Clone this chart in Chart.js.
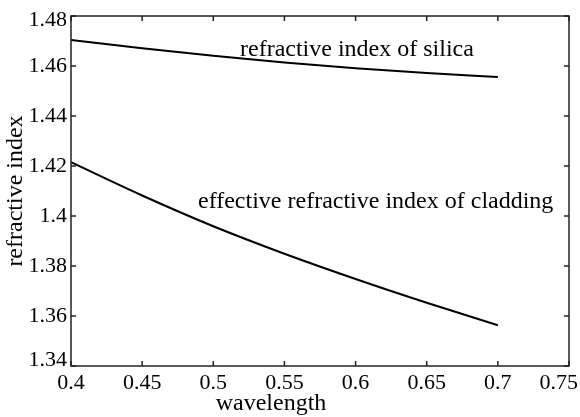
<!DOCTYPE html>
<html>
<head>
<meta charset="utf-8">
<script src="https://cdn.jsdelivr.net/npm/chart.js@4/dist/chart.umd.min.js"></script>
<style>
  html, body { margin: 0; padding: 0; background: #fff; }
  #wrap { width: 580px; height: 417px; }
</style>
</head>
<body>
<div id="wrap"><canvas id="indexChart" width="580" height="417"></canvas></div>
<script>
// values
const wavelength = [0.40, 0.45, 0.50, 0.55, 0.60, 0.65, 0.70];
const silicaIndex = [1.4704, 1.4671, 1.4641, 1.4614, 1.4591, 1.4572, 1.4556];
const claddingIndex = [1.4215, 1.4082, 1.3959, 1.3849, 1.3748, 1.3653, 1.3563];

const xTicks = [0.4, 0.45, 0.5, 0.55, 0.6, 0.65, 0.7, 0.75];
const xTickLabels = ['0.4', '0.45', '0.5', '0.55', '0.6', '0.65', '0.7', '0.75'];
const yTicks = [1.34, 1.36, 1.38, 1.4, 1.42, 1.44, 1.46, 1.48];
const yTickLabels = ['1.34', '1.36', '1.38', '1.4', '1.42', '1.44', '1.46', '1.48'];

const xTitle = 'wavelength';
const yTitle = 'refractive index';
const silicaLabel = 'refractive index of silica';
const claddingLabel = 'effective refractive index of cladding';

const serif = '"Liberation Serif", "Times New Roman", serif';

const toPoints = (ys) => wavelength.map((w, i) => ({ x: w, y: ys[i] }));

// box, inward ticks and all the text, MATLAB style
const matlabAxes = {
  id: 'matlabAxes',
  afterDraw(chart) {
    const { ctx, chartArea: a, scales } = chart;
    const x = scales.x, y = scales.y;
    ctx.save();
    ctx.strokeStyle = '#222';
    ctx.lineWidth = 1.5;
    ctx.strokeRect(a.left, a.top, a.right - a.left, a.bottom - a.top);

    ctx.beginPath();
    x.ticks.forEach((t) => {
      const px = x.getPixelForValue(t.value);
      ctx.moveTo(px, a.bottom); ctx.lineTo(px, a.bottom - 5);
      ctx.moveTo(px, a.top); ctx.lineTo(px, a.top + 5);
    });
    y.ticks.forEach((t) => {
      const py = y.getPixelForValue(t.value);
      ctx.moveTo(a.left, py); ctx.lineTo(a.left + 5, py);
      ctx.moveTo(a.right, py); ctx.lineTo(a.right - 5, py);
    });
    ctx.stroke();

    ctx.fillStyle = '#000';
    ctx.font = '22px ' + serif;
    ctx.textBaseline = 'middle';

    ctx.textAlign = 'center';
    x.ticks.forEach((t, i) => {
      let px = x.getPixelForValue(t.value);
      const w = ctx.measureText(xTickLabels[i]).width;
      if (px + w / 2 > chart.width - 2) px = chart.width - 2 - w / 2;
      ctx.fillText(xTickLabels[i], px, a.bottom + 17);
    });

    ctx.textAlign = 'right';
    y.ticks.forEach((t, i) => {
      let py = y.getPixelForValue(t.value);
      py = Math.max(a.top + 4, Math.min(a.bottom - 6, py));
      ctx.fillText(yTickLabels[i], a.left - 4, py);
    });

    ctx.font = '24px ' + serif;
    ctx.textBaseline = 'alphabetic';
    ctx.textAlign = 'center';
    ctx.fillText(xTitle, 271, 410);

    ctx.save();
    ctx.translate(22, (a.top + a.bottom) / 2);
    ctx.rotate(-Math.PI / 2);
    ctx.fillText(yTitle, 0, 0);
    ctx.restore();

    ctx.textAlign = 'left';
    ctx.fillText(silicaLabel, 240, 56);
    ctx.fillText(claddingLabel, 198, 208);
    ctx.restore();
  }
};

new Chart(document.getElementById('indexChart'), {
  type: 'line',
  data: {
    datasets: [
      {
        label: silicaLabel,
        data: toPoints(silicaIndex),
        borderColor: '#000',
        borderWidth: 2,
        pointRadius: 0,
        cubicInterpolationMode: 'monotone',
        fill: false,
      },
      {
        label: claddingLabel,
        data: toPoints(claddingIndex),
        borderColor: '#000',
        borderWidth: 2,
        pointRadius: 0,
        cubicInterpolationMode: 'monotone',
        fill: false,
      },
    ],
  },
  options: {
    responsive: false,
    animation: false,
    devicePixelRatio: 1,
    layout: { padding: { top: 16, right: 11, left: 0, bottom: 0 } },
    plugins: { legend: { display: false }, tooltip: { enabled: false } },
    scales: {
      x: {
        type: 'linear',
        min: 0.4,
        max: 0.75,
        afterBuildTicks: (s) => { s.ticks = xTicks.map((v) => ({ value: v })); },
        afterFit: (s) => { s.height = 51; },
        ticks: { display: false },
        grid: { display: false },
        border: { display: false },
      },
      y: {
        type: 'linear',
        min: 1.34,
        max: 1.48,
        afterBuildTicks: (s) => { s.ticks = yTicks.map((v) => ({ value: v })); },
        afterFit: (s) => { s.width = 71; },
        ticks: { display: false },
        grid: { display: false },
        border: { display: false },
      },
    },
  },
  plugins: [matlabAxes],
});
</script>
</body>
</html>
